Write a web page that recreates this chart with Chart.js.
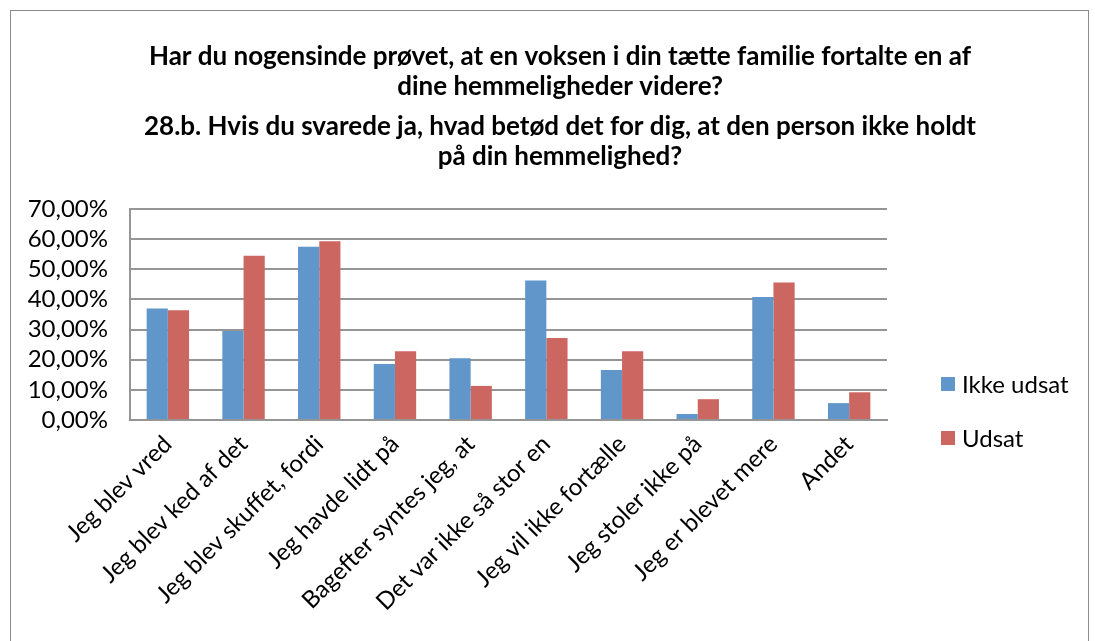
<!DOCTYPE html>
<html>
<head>
<meta charset="utf-8">
<script src="https://cdn.jsdelivr.net/npm/chart.js"></script>
<style>
    body { margin: 0; background: #fff; }
    #wrap { position: relative; width: 1095px; height: 641px; overflow: hidden; }
    #frame { position: absolute; left: 10px; top: 10px; width: 1077px; height: 700px; border: 1px solid #8c8c8c; }
    canvas { position: absolute; left: 0; top: 0; }
</style>
</head>
<body>
<div id="wrap">
    <div id="frame"></div>
    <canvas id="chart" width="1095" height="641"></canvas>
</div>
<script>
    "use strict";

    var categories = [
        "Jeg blev vred",
        "Jeg blev ked af det",
        "Jeg blev skuffet, fordi",
        "Jeg havde lidt på",
        "Bagefter syntes jeg, at",
        "Det var ikke så stor en",
        "Jeg vil ikke fortælle",
        "Jeg stoler ikke på",
        "Jeg er blevet mere",
        "Andet"
    ];
    var ikkeUdsat = [37.0, 29.5, 57.5, 18.6, 20.5, 46.3, 16.6, 2.0, 40.8, 5.6];
    var udsat = [36.4, 54.5, 59.3, 22.8, 11.3, 27.2, 22.8, 6.9, 45.6, 9.2];
    var seriesNames = ["Ikke udsat", "Udsat"];
    var titleLines = [
        "Har du nogensinde prøvet, at en voksen i din tætte familie fortalte en af",
        "dine hemmeligheder videre?"
    ];
    var subtitleLines = [
        "28.b. Hvis du svarede ja, hvad betød det for dig, at den person ikke holdt",
        "på din hemmelighed?"
    ];

    var FONT = "Lato, 'Open Sans', sans-serif";
    var blue = "#6096c9";
    var red = "#cc6660";

    // legend drawn to the right of the plot, like the Excel original
    var sideLegend = {
        id: "sideLegend",
        afterDraw: function (chart) {
            var ctx = chart.ctx;
            ctx.save();
            ctx.font = "24px " + FONT;
            ctx.textBaseline = "middle";
            chart.data.datasets.forEach(function (ds, i) {
                var y = 384 + i * 54;
                ctx.fillStyle = ds.backgroundColor;
                ctx.fillRect(941, y - 7, 14, 14);
                ctx.fillStyle = "#000";
                ctx.fillText(ds.label, 962, y + 1);
            });
            ctx.restore();
        }
    };

    new Chart(document.getElementById("chart"), {
        type: "bar",
        data: {
            labels: categories,
            datasets: [
                { label: seriesNames[0], data: ikkeUdsat, backgroundColor: blue, categoryPercentage: 0.56, barPercentage: 1 },
                { label: seriesNames[1], data: udsat, backgroundColor: red, categoryPercentage: 0.56, barPercentage: 1 }
            ]
        },
        options: {
            responsive: false,
            animation: false,
            layout: { padding: { left: 25, right: 0, top: 0, bottom: 0 } },
            plugins: {
                legend: { display: false },
                tooltip: { enabled: false },
                title: {
                    display: true,
                    text: titleLines,
                    color: "#000",
                    font: { family: FONT, size: 26, weight: "bold", lineHeight: 1.154 },
                    padding: { top: 42, bottom: 10 }
                },
                subtitle: {
                    display: true,
                    text: subtitleLines,
                    color: "#000",
                    font: { family: FONT, size: 26, weight: "bold", lineHeight: 1.154 },
                    padding: { top: 0, bottom: 37 }
                }
            },
            scales: {
                x: {
                    grid: { display: false },
                    border: { color: "#959595", width: 2 },
                    ticks: {
                        color: "#000",
                        font: { family: FONT, size: 24 },
                        maxRotation: 45,
                        minRotation: 45,
                        autoSkip: false,
                        padding: 2
                    },
                    afterFit: function (scale) { scale.height = 221; }
                },
                y: {
                    min: 0,
                    max: 70,
                    grid: { color: "#959595", lineWidth: 2, drawTicks: false },
                    border: { color: "#959595", width: 2 },
                    ticks: {
                        stepSize: 10,
                        autoSkip: false,
                        color: "#000",
                        font: { family: FONT, size: 24, lineHeight: 1 },
                        padding: 22,
                        callback: function (v) { return v.toFixed(2).replace(".", ",") + "%"; }
                    },
                    afterFit: function (scale) { scale.width = 105; }
                },
                // empty right-hand strip that keeps room for the legend
                legendRoom: {
                    type: "linear",
                    position: "right",
                    display: true,
                    grid: { display: false },
                    border: { display: false },
                    ticks: { display: false },
                    afterFit: function (scale) { scale.width = 208; }
                }
            }
        },
        plugins: [sideLegend]
    });
</script>
</body>
</html>
